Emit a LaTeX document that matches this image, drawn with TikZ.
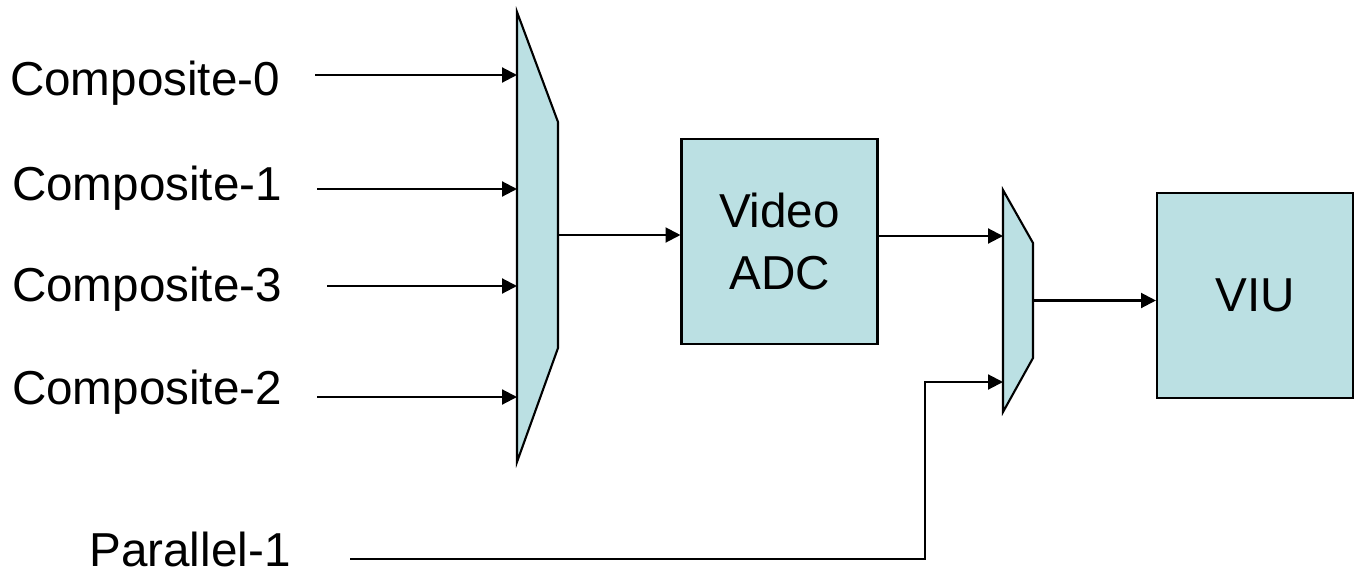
\documentclass[tikz,border=0pt]{standalone}
\usepackage{fontspec}
\setmainfont{Liberation Sans}
\usepackage{tikz}
\usetikzlibrary{arrows.meta}
\definecolor{vidfill}{RGB}{187,224,227}
\tikzstyle{vidblock}=[rectangle, draw, fill=vidfill, line width=1.2pt, minimum width=3.92cm, minimum height=4.1cm, align=center, font=\fontsize{27.1pt}{35pt}\selectfont]
\tikzstyle{vidmux}=[draw, fill=vidfill, line width=1.2pt]
\tikzstyle{vidlabel}=[inner sep=0pt, font=\fontsize{27.1pt}{33pt}\selectfont]
\tikzstyle{vidwire}=[line width=1.2pt]
\newcommand{\vidblock}[3]{
	\node[vidblock] (#1) at (#2) {#3};}
\newcommand{\vidlabel}[3]{
	\node[vidlabel] (#1) at (#2) {#3};}
\newcommand{\vidmux}[7]{
	\path[vidmux] (#2,#3) -- (#5,#6) -- (#5,#7) -- (#2,#4) -- cycle;
	\coordinate (#1-out) at (#5,{(#6+#7)/2});}
\newcommand{\muxin}[2]{
	\coordinate (#1) at (#2);}

\begin{document}
\begin{tikzpicture}[x=0.02cm, y=-0.02cm, >={Triangle[length=8.5pt,width=8.5pt]}]
\useasboundingbox (0,0) rectangle (1356,575);
% inputs
\vidlabel{comp0}{145,83}{Composite-0}
\vidlabel{comp1}{147,188}{Composite-1}
\vidlabel{comp3}{147,289}{Composite-3}
\vidlabel{comp2}{147,392}{Composite-2}
\vidlabel{par1}{190,549}{Parallel-1}
% first mux
\vidmux{mux1}{517}{12}{462}{558}{122}{348}
\muxin{mux1-in0}{517,75}
\muxin{mux1-in1}{517,189}
\muxin{mux1-in3}{517,286}
\muxin{mux1-in2}{517,397}
% blocks
\vidblock{adc}{779.5,241.5}{Video\\ADC}
\vidmux{mux2}{1003}{190}{412}{1033}{243}{358}
\muxin{mux2-in0}{1003,236}
\muxin{mux2-in1}{1003,382}
\coordinate (par1turn) at (925,382);
\coordinate (par1start) at (350,559);
\vidblock{viu}{1255,295.5}{VIU}
% connections
\draw[vidwire, ->] ([xshift=0.7cm]comp0.east |- mux1-in0) -- (mux1-in0);
\draw[vidwire, ->] ([xshift=0.7cm]comp1.east |- mux1-in1) -- (mux1-in1);
\draw[vidwire, ->] ([xshift=0.9cm]comp3.east |- mux1-in3) -- (mux1-in3);
\draw[vidwire, ->] ([xshift=0.7cm]comp2.east |- mux1-in2) -- (mux1-in2);
\draw[vidwire, ->] (mux1-out) -- (mux1-out -| adc.west);
\draw[vidwire, ->] (adc.east |- mux2-in0) -- (mux2-in0);
\draw[vidwire, ->] (par1start) -| (par1turn) -- (mux2-in1);
\draw[vidwire, ->] (mux2-out) -- (mux2-out -| viu.west);
\end{tikzpicture}
\end{document}
